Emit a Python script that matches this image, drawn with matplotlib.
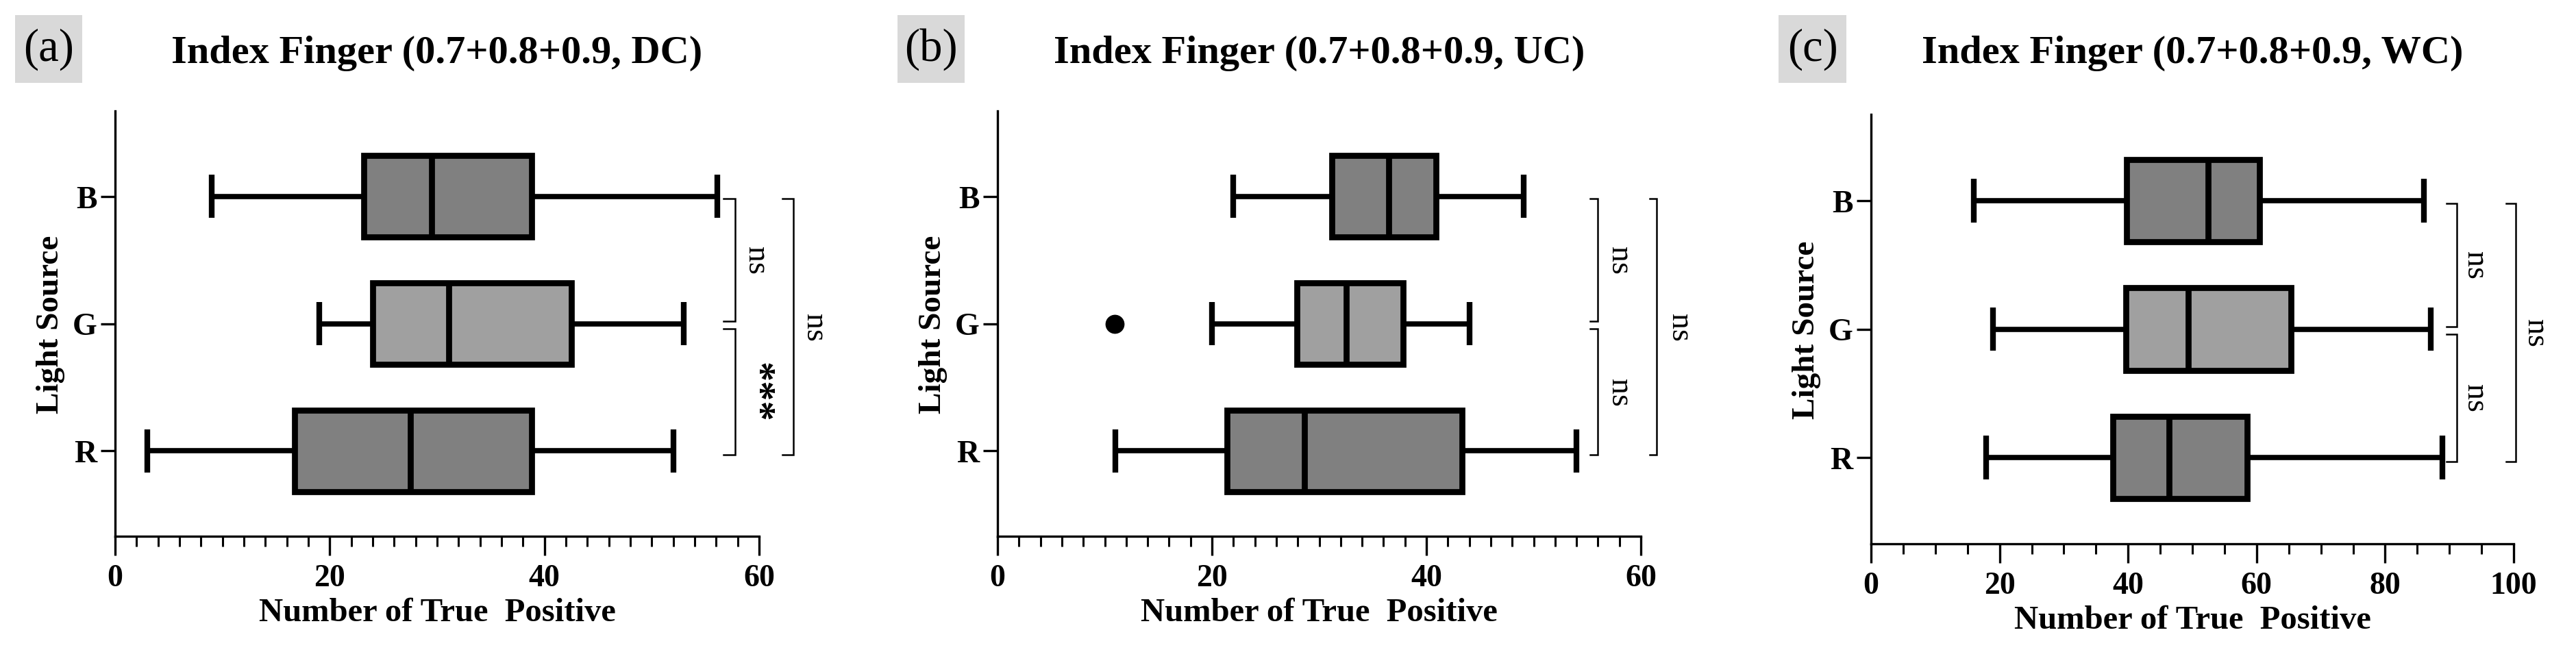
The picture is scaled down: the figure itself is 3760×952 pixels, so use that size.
import matplotlib
matplotlib.use("Agg")
import matplotlib.pyplot as plt
from matplotlib.patches import Rectangle
from matplotlib.ticker import MultipleLocator

plt.rcParams['font.family'] = ['Liberation Serif', 'DejaVu Serif']

# ---------------- data ----------------
categories = ['R', 'G', 'B']          # bottom -> top
panel_letters = ['(a)', '(b)', '(c)']
titles = ['Index Finger (0.7+0.8+0.9, DC)',
          'Index Finger (0.7+0.8+0.9, UC)',
          'Index Finger (0.7+0.8+0.9, WC)']
xlabel = 'Number of True  Positive'
ylabel = 'Light Source'

# five-number summaries per category (R, G, B)
a_whislo = [3.0, 19.0, 9.0]
a_q1     = [16.7, 24.0, 23.2]
a_med    = [27.5, 31.1, 29.5]
a_q3     = [38.8, 42.5, 38.8]
a_whishi = [52.0, 53.0, 56.1]
a_fliers = [[], [], []]

b_whislo = [11.0, 20.0, 22.0]
b_q1     = [21.4, 27.9, 31.2]
b_med    = [28.6, 32.5, 36.5]
b_q3     = [43.3, 37.8, 40.9]
b_whishi = [54.0, 44.0, 49.1]
b_fliers = [[], [10.9], []]

c_whislo = [17.9, 19.0, 16.0]
c_q1     = [37.6, 39.7, 39.8]
c_med    = [46.4, 49.4, 52.5]
c_q3     = [58.5, 65.3, 60.4]
c_whishi = [88.9, 87.1, 86.0]
c_fliers = [[], [], []]

xlims = [60, 60, 100]
xmajor = [20, 20, 20]
xminor = [2, 2, 5]

# significance labels: (upper pair B-G, lower pair G-R, outer B-R)
a_sig = ['ns', '***', 'ns']
b_sig = ['ns', 'ns', 'ns']
c_sig = ['ns', 'ns', 'ns']

# ---------------- styling / layout ----------------
W, H = 3760, 953
fig = plt.figure(figsize=(W / 100, H / 100), dpi=100)

axes_px = [(168, 163, 1108, 784), (1456, 163, 2395, 784), (2731, 168, 3669, 795)]
label_box_px = [(22, 23, 120, 122), (1310, 23, 1408, 122), (2596, 23, 2695, 122)]
# bracket geometry in data x-units: (inner line, inner tick end, inner label, outer line, outer tick end, outer label)
bracket_x = [(57.75, 56.7, 59.7, 63.2, 62.2, 65.1),
             (56.0, 55.3, 58.0, 61.5, 60.8, 63.6),
             (91.2, 89.6, 94.0, 100.3, 98.8, 103.3)]

dark = '#808080'
light = '#a0a0a0'
fills = [dark, light, dark]
LW = 6.3

panels = [
    (a_whislo, a_q1, a_med, a_q3, a_whishi, a_fliers, a_sig),
    (b_whislo, b_q1, b_med, b_q3, b_whishi, b_fliers, b_sig),
    (c_whislo, c_q1, c_med, c_q3, c_whishi, c_fliers, c_sig),
]

for i, (wl, q1, md, q3, wh, fl, sig) in enumerate(panels):
    x0, y0, x1, y1 = axes_px[i]
    ax = fig.add_axes([x0 / W, 1 - y1 / H, (x1 - x0) / W, (y1 - y0) / H])
    stats = []
    for k in range(len(categories)):
        stats.append(dict(whislo=wl[k], q1=q1[k], med=md[k], q3=q3[k],
                          whishi=wh[k], fliers=fl[k], label=categories[k]))
    kw = dict(positions=list(range(len(categories))), widths=0.64,
              capwidths=0.34, patch_artist=True, showfliers=True,
              boxprops=dict(edgecolor='black', linewidth=LW),
              whiskerprops=dict(color='black', linewidth=LW - 0.8, solid_capstyle='butt'),
              capprops=dict(color='black', linewidth=LW - 0.3, solid_capstyle='butt'),
              medianprops=dict(color='black', linewidth=LW, solid_capstyle='butt'),
              flierprops=dict(marker='o', markerfacecolor='black',
                              markeredgecolor='black', markersize=19))
    try:
        bp = ax.bxp(stats, orientation='horizontal', **kw)
    except TypeError:
        bp = ax.bxp(stats, vert=False, **kw)
    for patch, c in zip(bp['boxes'], fills):
        patch.set_facecolor(c)
        patch.set_joinstyle('miter')

    ax.set_xlim(0, xlims[i])
    ax.set_ylim(-0.67, 2.67)
    ax.set_yticks(range(len(categories)))
    ax.set_yticklabels(categories, fontsize=33, fontweight='bold')
    ax.xaxis.set_major_locator(MultipleLocator(xmajor[i]))
    ax.xaxis.set_minor_locator(MultipleLocator(xminor[i]))
    for lab in ax.get_xticklabels():
        lab.set_fontsize(33)
        lab.set_fontweight('bold')
    ax.tick_params(axis='x', which='major', length=20, width=2.4, pad=9, direction='out')
    ax.tick_params(axis='x', which='minor', length=11, width=2.2, direction='out')
    ax.tick_params(axis='y', which='major', length=15, width=2.4, pad=4, direction='out')
    for s in ['top', 'right']:
        ax.spines[s].set_visible(False)
    for s in ['left', 'bottom']:
        ax.spines[s].set_linewidth(2.4)
    ax.set_xlabel(xlabel, fontsize=35, fontweight='bold', labelpad=5)
    ax.set_ylabel(ylabel, fontsize=34, fontweight='bold', labelpad=8)

    # significance brackets
    xi, xit, xil, xo, xot, xol = bracket_x[i]
    blw = 1.8
    segs = [(1.98, 1.02, xi, xit, xil, sig[0]),
            (0.96, -0.03, xi, xit, xil, sig[1]),
            (1.98, -0.03, xo, xot, xol, sig[2])]
    for yt, yb, xl, xt, xlab, txt in segs:
        ax.plot([xt, xl, xl, xt], [yt, yt, yb, yb], color='black', lw=blw,
                clip_on=False, solid_joinstyle='miter')
        ym = (yt + yb) / 2
        if txt == '***':
            ax.text(xlab, ym, txt, rotation=270, ha='center', va='center',
                    fontsize=42, fontweight='bold', clip_on=False)
        else:
            ax.text(xlab, ym, txt, rotation=270, ha='center', va='center',
                    fontsize=33, clip_on=False)

    # title
    cx = (x0 + x1) / 2 / W
    fig.text(cx, 1 - 78 / H, titles[i], ha='center', va='center',
             fontsize=42, fontweight='bold')

    # panel label box
    bx0, by0, bx1, by1 = label_box_px[i]
    fig.add_artist(Rectangle((bx0 / W, 1 - by1 / H), (bx1 - bx0) / W, (by1 - by0) / H,
                             transform=fig.transFigure, facecolor='#d9d9d9',
                             edgecolor='none'))
    fig.text((bx0 + bx1) / 2 / W, 1 - (by0 + by1) / 2 / H, panel_letters[i],
             ha='center', va='center', fontsize=48)

fig.savefig('out.png', dpi=100, facecolor='white')
